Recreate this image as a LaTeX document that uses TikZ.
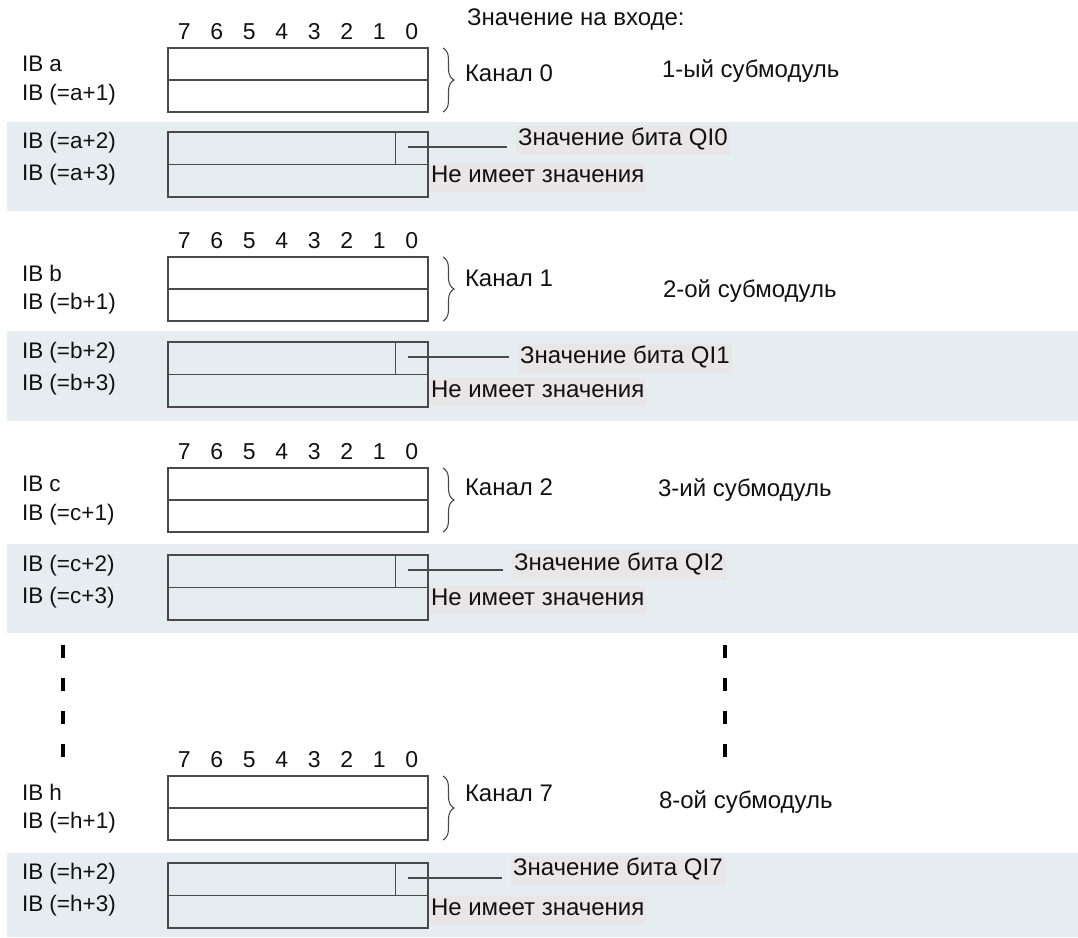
\documentclass[tikz,border=0pt]{standalone}
\usepackage{fontspec}
\setmainfont{Liberation Sans}
\usetikzlibrary{decorations.pathreplacing}
\definecolor{bandcol}{HTML}{E6EDF1}
\definecolor{hlcol}{HTML}{E8E6E6}
\definecolor{linecol}{HTML}{4A4A4A}
\definecolor{txtcol}{HTML}{111111}
\tikzset{
  lbl/.style={inner sep=0pt, outer sep=0pt, text=txtcol, font=\fontsize{22.5pt}{26pt}\selectfont},
  cyr/.style={inner sep=0pt, outer sep=0pt, text=txtcol, font=\fontsize{24pt}{28pt}\selectfont},
  bitnum/.style={lbl, font=\fontsize{23pt}{27pt}\selectfont, text height=16.5pt, text depth=0pt},
  hl/.style={cyr, fill=hlcol, inner xsep=2pt, inner ysep=4pt, text height=16pt, text depth=5pt},
  topbox/.style={draw=linecol, line width=1.3pt, rectangle, minimum width=260pt, minimum height=64pt, inner sep=0pt, outer sep=0pt, fill=white},
  lowbox/.style={draw=linecol, line width=1.3pt, rectangle, minimum width=260pt, minimum height=65pt, inner sep=0pt, outer sep=0pt},
  boxline/.style={draw=linecol, line width=1.3pt},
  pointer/.style={draw=linecol, line width=1.1pt},
  bracestyle/.style={draw=linecol, line width=1.1pt, decorate, decoration={brace, amplitude=11pt}},
  dashline/.style={draw=black, line width=3.2pt, dash pattern=on 13pt off 20pt},
  band/.style={fill=bandcol, draw=none}
}
% #1 prefix, #2 top box top, #3 lower box top, #4 band top, #5 band bottom
\newcommand{\secboxes}[5]{%
  \fill[band] (7,#4) rectangle (1078,#5);
  \node[topbox, anchor=north west] (#1top) at (168,#2) {};
  \draw[boxline] (#1top.west) -- (#1top.east);
  \node[lowbox, anchor=north west] (#1low) at (168,#3) {};
  \draw[boxline] (#1low.west) -- (#1low.east);
  \draw[boxline] ([xshift=227.5pt]#1low.north west) -- ([xshift=227.5pt]#1low.west);
  \foreach \k in {0,...,7} {\node[bitnum] (#1bit\k) at ({184.25+32.5*(7-\k)},#2-17) {\k};}
  \node[lbl, anchor=west] (#1ib0) at (22,#2+16) {IB #1};
  \node[lbl, anchor=west] (#1ib1) at (22,#2+47) {IB (=#1+1)};
  \node[lbl, anchor=west] (#1ib2) at (22,#3+11) {IB (=#1+2)};
  \node[lbl, anchor=west] (#1ib3) at (22,#3+43) {IB (=#1+3)};
  \draw[bracestyle] ([xshift=15pt]#1top.north east) -- ([xshift=15pt]#1top.south east);
}
% #1 prefix, #2 channel, #3 channel y, #4 submodule text, #5 submodule pos, #6 QI pos, #7 NIZ y
\newcommand{\seclabels}[7]{%
  \node[cyr, anchor=west] (#1ch) at (465,#3) {Канал #2};
  \node[cyr, anchor=west] (#1sub) at (#5) {#4};
  \node[hl, anchor=west] (#1qi) at (#6) {Значение бита QI#2};
  \coordinate (#1pt) at ([xshift=240pt, yshift=-15pt]#1low.north west);
  \draw[pointer] (#1pt) -- ([xshift=-9pt]#1qi.west |- #1pt);
  \node[hl, anchor=west] (#1niz) at (429,#7) {Не имеет значения};
}
\begin{document}
\begin{tikzpicture}[x=1pt,y=-1pt]
\useasboundingbox (0,0) rectangle (1078,937);
\node[cyr, anchor=west] (head) at (467,20) {Значение на входе:};
\secboxes{a}{48}{132}{122}{211}
\seclabels{a}{0}{73}{1-ый субмодуль}{662,71}{516,140}{177}
\secboxes{b}{257}{342}{331}{421}
\seclabels{b}{1}{278}{2-ой субмодуль}{663,291}{518,358}{392}
\secboxes{c}{468}{555}{544}{633}
\seclabels{c}{2}{487}{3-ий субмодуль}{658,490}{512,565}{600}
\secboxes{h}{776}{863}{853}{937}
\seclabels{h}{7}{793}{8-ой субмодуль}{659,802}{511,870}{910}
\coordinate (dl1) at (63,645);
\coordinate (dl2) at (63,757);
\coordinate (dr1) at (725,645);
\coordinate (dr2) at (725,757);
\draw[dashline] (dl1) -- (dl2);
\draw[dashline] (dr1) -- (dr2);
\end{tikzpicture}
\end{document}
